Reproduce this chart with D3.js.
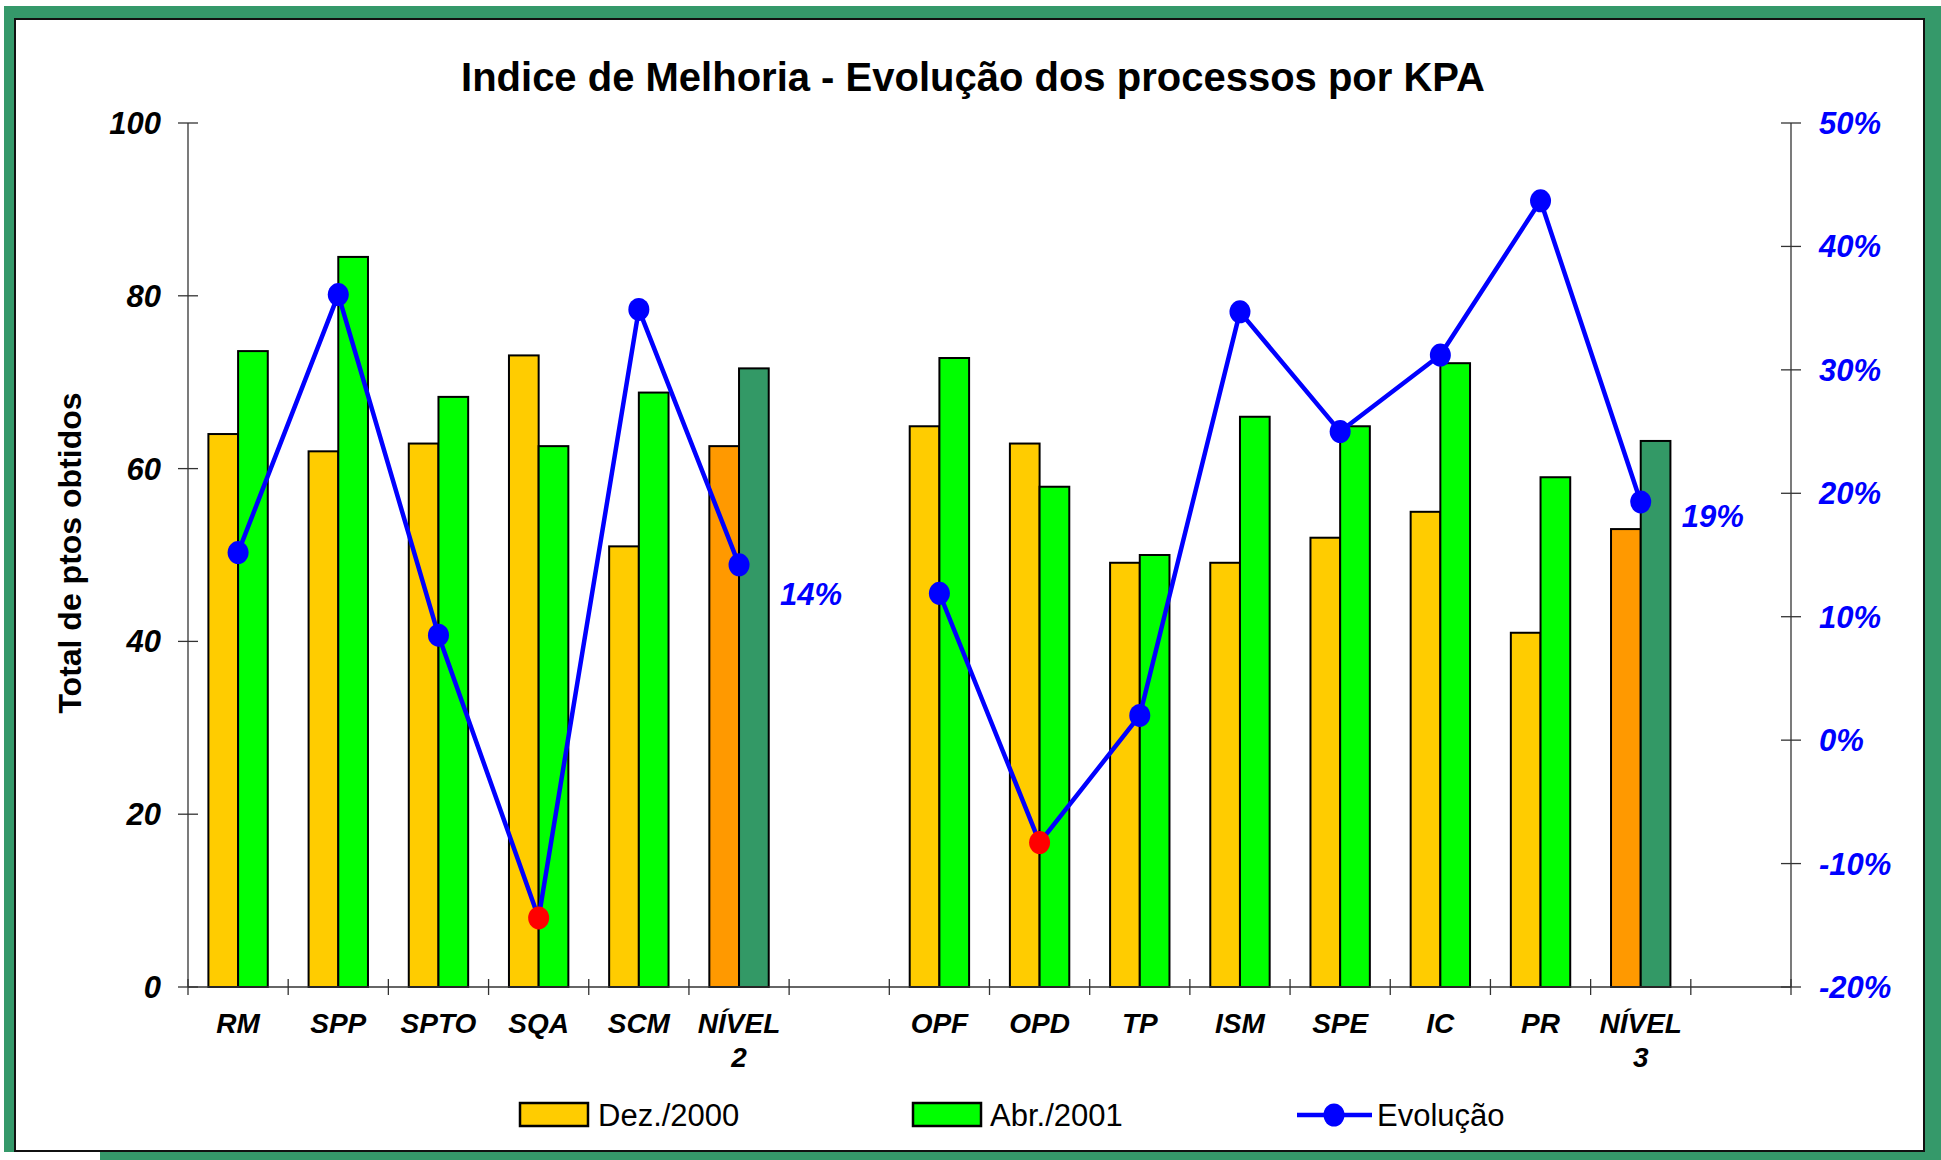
<!DOCTYPE html>
<html>
<head>
<meta charset="utf-8">
<script src="https://cdn.jsdelivr.net/npm/d3@7"></script>
<style>
  html, body { margin: 0; padding: 0; background: #fff; }
  svg { display: block; font-family: "Liberation Sans", Arial, sans-serif; }
</style>
</head>
<body>
<svg width="1941" height="1160"></svg>
<script>
'use strict';

// categories, "" = empty slot between groups
let categories = ["RM", "SPP", "SPTO", "SQA", "SCM", "NÍVEL 2", "", "OPF", "OPD", "TP", "ISM", "SPE", "IC", "PR", "NÍVEL 3", " "];
let dez2000 = [64.0, 62.0, 62.9, 73.1, 51.0, 62.6, null, 64.9, 62.9, 49.1, 49.1, 52.0, 55.0, 41.0, 53.0, null];
let abr2001 = [73.6, 84.5, 68.3, 62.6, 68.8, 71.6, null, 72.8, 57.9, 50.0, 66.0, 64.9, 72.2, 59.0, 63.2, null];
let evolucao = [15.2, 36.1, 8.5, -14.4, 34.9, 14.2, null, 11.9, -8.3, 2.0, 34.7, 25.0, 31.2, 43.7, 19.3, null];
let totals = ["NÍVEL 2", "NÍVEL 3"];
let totalLabels = {"NÍVEL 2": "14%", "NÍVEL 3": "19%"};
let leftTicks = [0, 20, 40, 60, 80, 100];
let rightTicks = [-20, -10, 0, 10, 20, 30, 40, 50];

let width = 1941, height = 1160;
let svg = d3.select("svg").attr("viewBox", [0, 0, width, height]);

// frame
svg.append("rect").attr("x", 4).attr("y", 6).attr("width", width - 4).attr("height", 1146).attr("fill", "#35996a");
svg.append("rect").attr("x", 100).attr("y", 1140).attr("width", width - 100).attr("height", 20).attr("fill", "#35996a");
svg.append("rect").attr("x", 15).attr("y", 19).attr("width", 1909).attr("height", 1132)
  .attr("fill", "#fff").attr("stroke", "#111").attr("stroke-width", 2);

let x = d3.scaleBand().domain(categories).range([188, 1791]);
let x1 = d3.scaleBand().domain(["dez", "abr"]).range([0, x.bandwidth()]).paddingOuter(0.687);
let y = d3.scaleLinear().domain([0, 100]).range([987, 123]);
let y2 = d3.scaleLinear().domain([-20, 50]).range([987, 123]);

svg.append("text")
  .attr("x", 973).attr("y", 91)
  .attr("text-anchor", "middle")
  .attr("font-size", 40).attr("font-weight", "bold")
  .text("Indice de Melhoria - Evolução dos processos por KPA");

// bars
let rows = categories.map((c, i) => ({cat: c, dez: dez2000[i], abr: abr2001[i], evo: evolucao[i]}));
let bars = svg.append("g").attr("stroke", "#000").attr("stroke-width", 2);

rows.filter(d => d.dez != null).forEach(d => {
  let total = totals.includes(d.cat);
  bars.append("rect")
    .attr("x", x(d.cat) + x1("dez")).attr("width", x1.bandwidth())
    .attr("y", y(d.dez)).attr("height", y(0) - y(d.dez))
    .attr("fill", total ? "#ff9900" : "#ffcc00");
  bars.append("rect")
    .attr("x", x(d.cat) + x1("abr")).attr("width", x1.bandwidth())
    .attr("y", y(d.abr)).attr("height", y(0) - y(d.abr))
    .attr("fill", total ? "#339966" : "#00ff00");
});

// axes
let axes = svg.append("g").attr("stroke", "#333").attr("stroke-width", 1.3);
axes.append("line").attr("x1", 188).attr("x2", 188).attr("y1", y(100)).attr("y2", y(0));
axes.append("line").attr("x1", 1791).attr("x2", 1791).attr("y1", y(100)).attr("y2", y(0));
axes.append("line").attr("x1", 188).attr("x2", 1791).attr("y1", y(0)).attr("y2", y(0));
axes.selectAll(".lt").data(leftTicks).join("line")
  .attr("x1", 178).attr("x2", 198).attr("y1", d => y(d)).attr("y2", d => y(d));
axes.selectAll(".rt").data(rightTicks).join("line")
  .attr("x1", 1781).attr("x2", 1801).attr("y1", d => y2(d)).attr("y2", d => y2(d));
axes.selectAll(".xt").data(categories.concat(["end"])).join("line")
  .attr("x1", (d, i) => 188 + i * x.step()).attr("x2", (d, i) => 188 + i * x.step())
  .attr("y1", y(0) - 8).attr("y2", y(0) + 8);

svg.append("g")
  .attr("font-size", 31).attr("font-weight", "bold").attr("font-style", "italic")
  .attr("text-anchor", "end")
  .selectAll("text").data(leftTicks).join("text")
  .attr("x", 161).attr("y", d => y(d) + 11)
  .text(d => d);

svg.append("g")
  .attr("font-size", 31).attr("font-weight", "bold").attr("font-style", "italic")
  .attr("fill", "#0000ff")
  .selectAll("text").data(rightTicks).join("text")
  .attr("x", 1819).attr("y", d => y2(d) + 11)
  .text(d => d + "%");

let xl = svg.append("g")
  .attr("font-size", 28).attr("font-weight", "bold").attr("font-style", "italic")
  .attr("text-anchor", "middle")
  .selectAll("text").data(categories.filter(c => c.trim() != "")).join("text")
  .attr("x", d => x(d) + x.bandwidth() / 2).attr("y", 1033);
xl.append("tspan").text(d => d.split(" ")[0]);
xl.filter(d => d.includes(" ")).append("tspan")
  .attr("x", d => x(d) + x.bandwidth() / 2).attr("dy", 34)
  .text(d => d.split(" ")[1]);

svg.append("text")
  .attr("transform", "translate(81,553) rotate(-90)")
  .attr("text-anchor", "middle")
  .attr("font-size", 32).attr("font-weight", "bold")
  .text("Total de ptos obtidos");

// evolution line
let line = d3.line()
  .defined(d => d.evo != null)
  .x(d => x(d.cat) + x.bandwidth() / 2)
  .y(d => y2(d.evo));

svg.append("path").datum(rows)
  .attr("d", line)
  .attr("fill", "none").attr("stroke", "#0000ff").attr("stroke-width", 4.5)
  .attr("stroke-linejoin", "round");

svg.append("g").selectAll("ellipse").data(rows.filter(d => d.evo != null)).join("ellipse")
  .attr("cx", d => x(d.cat) + x.bandwidth() / 2).attr("cy", d => y2(d.evo))
  .attr("rx", 10.5).attr("ry", 11.5)
  .attr("fill", d => d.evo < 0 ? "#ff0000" : "#0000ff");

svg.append("g")
  .attr("font-size", 31).attr("font-weight", "bold").attr("font-style", "italic")
  .attr("fill", "#0000ff").attr("text-anchor", "middle")
  .selectAll("text").data(rows.filter(d => totals.includes(d.cat))).join("text")
  .attr("x", d => x(d.cat) + x.bandwidth() / 2 + 72)
  .attr("y", (d, i) => y2(d.evo) + (i == 0 ? 40 : 25))
  .text(d => totalLabels[d.cat]);

// legend
let legend = svg.append("g").attr("font-size", 31);
legend.append("rect").attr("x", 520).attr("y", 1103).attr("width", 68).attr("height", 23)
  .attr("fill", "#ffcc00").attr("stroke", "#000").attr("stroke-width", 2.5);
legend.append("text").attr("x", 598).attr("y", 1126).text("Dez./2000");
legend.append("rect").attr("x", 913).attr("y", 1103).attr("width", 68).attr("height", 23)
  .attr("fill", "#00ff00").attr("stroke", "#000").attr("stroke-width", 2.5);
legend.append("text").attr("x", 990).attr("y", 1126).text("Abr./2001");
legend.append("line").attr("x1", 1297).attr("x2", 1372).attr("y1", 1115).attr("y2", 1115)
  .attr("stroke", "#0000ff").attr("stroke-width", 4.5);
legend.append("ellipse").attr("cx", 1334).attr("cy", 1115).attr("rx", 10.5).attr("ry", 11.5).attr("fill", "#0000ff");
legend.append("text").attr("x", 1377).attr("y", 1126).text("Evolução");
</script>
</body>
</html>
